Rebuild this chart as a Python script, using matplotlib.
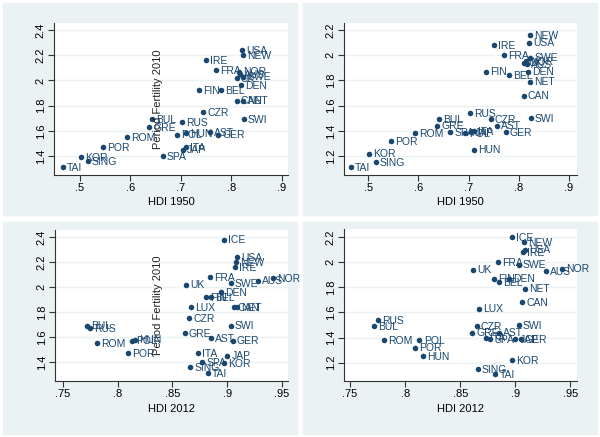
import numpy as np
import matplotlib
matplotlib.use("Agg")
import matplotlib.pyplot as plt
from matplotlib.patches import Rectangle

plt.rcParams['font.family'] = ['Liberation Sans', 'DejaVu Sans']

# country codes and values
countries = ['ICE', 'USA', 'NEW', 'IRE', 'FRA', 'NOR', 'SWE', 'UK', 'AUS', 'DEN',
             'FIN', 'BEL', 'LUX', 'CAN', 'NET', 'CZR', 'SWI', 'BUL', 'RUS', 'GRE',
             'AST', 'GER', 'HUN', 'POL', 'ROM', 'POR', 'ITA', 'JAP', 'SPA', 'KOR',
             'SING', 'TAI']
hdi_1950 = [np.nan, 0.821, 0.823, 0.750, 0.770, 0.814, 0.823, 0.810, 0.817, 0.818,
            0.735, 0.780, np.nan, 0.810, 0.823, 0.744, 0.824, 0.642, 0.702, 0.637,
            0.757, 0.774, 0.710, 0.692, 0.593, 0.546, 0.710, 0.704, 0.664, 0.501,
            0.515, 0.466]
hdi_2012 = [0.897, 0.909, 0.908, 0.907, 0.884, 0.942, 0.903, 0.862, 0.928, 0.894,
            0.881, 0.885, 0.867, 0.906, 0.909, 0.865, 0.903, 0.772, 0.775, 0.861,
            0.885, 0.905, 0.816, 0.813, 0.781, 0.809, 0.873, 0.900, 0.877, 0.897,
            0.866, 0.882]
fert_left = [2.38, 2.24, 2.20, 2.16, 2.08, 2.07, 2.03, 2.02, 2.05, 1.96,
             1.92, 1.92, 1.84, 1.84, 1.84, 1.75, 1.69, 1.69, 1.67, 1.63,
             1.59, 1.57, 1.58, 1.57, 1.55, 1.47, 1.47, 1.45, 1.40, 1.39,
             1.36, 1.31]
fert_right = [2.20, 2.10, 2.16, 2.08, 2.00, 1.95, 1.98, 1.94, 1.93, 1.87,
              1.87, 1.84, 1.63, 1.68, 1.79, 1.49, 1.50, 1.49, 1.54, 1.44,
              1.44, 1.39, 1.25, 1.38, 1.38, 1.32, 1.40, 1.39, 1.39, 1.22,
              1.15, 1.11]

xt_1950 = [0.5, 0.6, 0.7, 0.8, 0.9]
xtl_1950 = ['.5', '.6', '.7', '.8', '.9']
xt_2012 = [0.75, 0.8, 0.85, 0.9, 0.95]
xtl_2012 = ['.75', '.8', '.85', '.9', '.95']
yt_left = [1.4, 1.6, 1.8, 2.0, 2.2, 2.4]
ytl_left = ['1.4', '1.6', '1.8', '2', '2.2', '2.4']
yt_right = [1.2, 1.4, 1.6, 1.8, 2.0, 2.2]
ytl_right = ['1.2', '1.4', '1.6', '1.8', '2', '2.2']

navy = '#1a476f'
bg = '#eaf2f3'
W, H = 600, 437

fig = plt.figure(figsize=(6, 4.37), dpi=100, facecolor='white')

# grey graph regions
for (x0, y0, w, h) in [(3, 3, 294, 212), (303, 3, 294, 212),
                       (3, 222, 294, 212), (303, 222, 294, 212)]:
    fig.patches.append(Rectangle((x0 / W, 1 - (y0 + h) / H), w / W, h / H,
                                 transform=fig.transFigure, color=bg, zorder=-10))


def make_ax(left, right, top, bottom):
    return fig.add_axes([left / W, 1 - bottom / H, (right - left) / W, (bottom - top) / H])


panels = [
    (make_ax(54, 288, 23, 175), hdi_1950, fert_left, (0.4485, 0.912), (1.25, 2.455),
     xt_1950, xtl_1950, yt_left, ytl_left, 'HDI 1950', True),
    (make_ax(344, 577, 23, 175), hdi_1950, fert_right, (0.452, 0.916), (1.05, 2.255),
     xt_1950, xtl_1950, yt_right, ytl_right, 'HDI 1950', False),
    (make_ax(55, 288, 230, 381), hdi_2012, fert_left, (0.7427, 0.9555), (1.248, 2.456),
     xt_2012, xtl_2012, yt_left, ytl_left, 'HDI 2012', True),
    (make_ax(344, 577, 229, 381), hdi_2012, fert_right, (0.7445, 0.956), (1.054, 2.265),
     xt_2012, xtl_2012, yt_right, ytl_right, 'HDI 2012', False),
]

for ax, xs, ys, xl, yl, xt, xtl, yt, ytl, xlab, show_ylab in panels:
    ax.set_facecolor('white')
    ax.set_xlim(*xl)
    ax.set_ylim(*yl)
    for y in yt:
        ax.axhline(y, color=bg, lw=1.0, zorder=0)
    ax.scatter(xs, ys, s=16, color=navy, zorder=3, linewidths=0)
    for c, x, y in zip(countries, xs, ys):
        if np.isnan(x):
            continue
        ax.annotate(c, (x, y), xytext=(3, -0.5), textcoords='offset points',
                    fontsize=7.5, color=navy, va='center', ha='left', zorder=4)
    ax.set_xticks(xt)
    ax.set_xticklabels(xtl)
    ax.set_yticks(yt)
    ax.set_yticklabels(ytl, rotation=90, va='center')
    ax.tick_params(direction='out', length=4, width=0.8, labelsize=8, color='#333333',
                   pad=2)
    ax.set_xlabel(xlab, fontsize=8, labelpad=3)
    for s in ['top', 'right']:
        ax.spines[s].set_visible(False)
    for s in ['left', 'bottom']:
        ax.spines[s].set_color('#333333')
        ax.spines[s].set_linewidth(0.8)
    if show_ylab:
        ax.text(0.444, 0.5, 'Period Fertility 2010', transform=ax.transAxes,
                rotation=90, ha='center', va='center', fontsize=8, color='#222222')

fig.savefig('out.png', dpi=100, facecolor='white')
